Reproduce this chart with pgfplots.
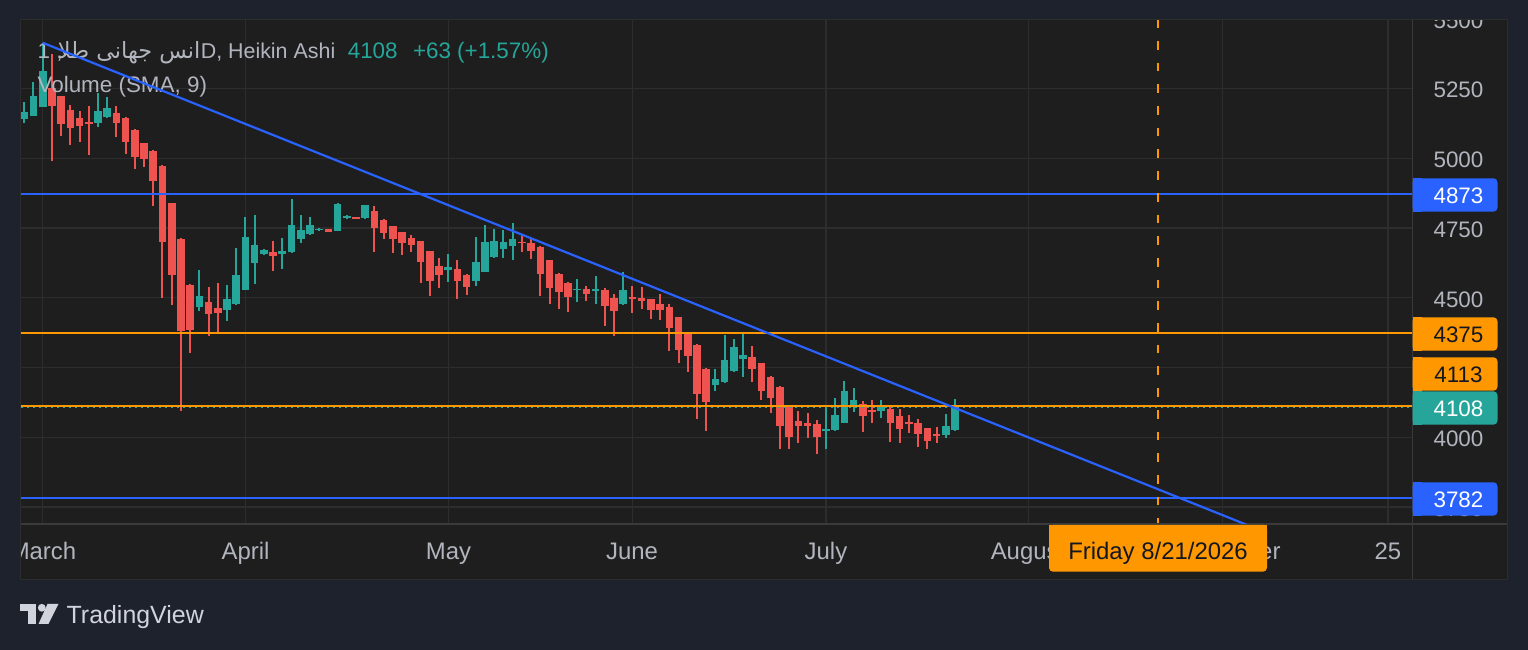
\documentclass[border=0pt]{standalone}
\usepackage{fontspec}
\setmainfont{Liberation Sans}
\newfontfamily\arabicfont[Script=Arabic]{DejaVu Sans}
\TeXXeTstate=1
\usepackage{pgfplots}
\usepackage{pgfplotstable}
\pgfplotsset{compat=1.18}

\definecolor{outer}{HTML}{1E222D}
\definecolor{panel}{HTML}{1E1E1E}
\definecolor{gridc}{HTML}{2D2D2D}
\definecolor{sepc}{HTML}{3A3A3A}
\definecolor{lab}{HTML}{B2B5BE}
\definecolor{bull}{HTML}{26A69A}
\definecolor{bear}{HTML}{EF5350}
\definecolor{tvblue}{HTML}{2962FF}
\definecolor{tvorange}{HTML}{FF9800}
\definecolor{darktext}{HTML}{131722}
\definecolor{logoc}{HTML}{D1D4DC}

\newcommand\tfont{\fontsize{22.5}{27}\selectfont}
\newcommand\sfont{\fontsize{21.5}{26}\selectfont}
\newcommand\mfont{\fontsize{24}{29}\selectfont}
\newcommand\lfont{\fontsize{25}{30}\selectfont}

% Heikin Ashi candles: bar index (0 = March 2), open, high, low, close
\pgfplotstableread{
i O H L C
-2 5140 5201 5128 5166
-1 5152 5273 5152 5223
0 5185 5413 5185 5313
6 5126 5234 5113 5170
7 5148 5220 5146 5180
17 4466 4600 4454 4506
20 4456 4546 4418 4496
21 4476 4679 4475 4582
22 4529 4790 4529 4718
23 4624 4797 4551 4689
24 4656 4675 4652 4671
26 4658 4714 4604 4669
27 4663 4854 4662 4761
28 4712 4797 4697 4743
29 4727 4790 4726 4761
30 4743 4749 4740 4747
32 4741 4840 4740 4836
33 4786 4797 4781 4793
35 4786 4833 4784 4833
44 4598 4657 4558 4609
47 4561 4718 4543 4628
48 4594 4761 4594 4700
49 4647 4747 4644 4704
50 4675 4743 4644 4700
51 4687 4768 4637 4711
58 4528 4567 4486 4533
60 4523 4578 4479 4532
63 4476 4591 4475 4528
73 4186 4245 4167 4209
74 4197 4367 4196 4277
75 4237 4352 4235 4324
76 4280 4377 4217 4295
85 4024 4113 3959 4029
86 4026 4142 4024 4080
87 4053 4202 4052 4166
88 4109 4177 4092 4134
91 4095 4134 4070 4110
98 4009 4084 3999 4041
99 4025 4137 4024 4108
}\bull

\pgfplotstableread{
i O H L C
1 5251 5374 4991 5187
2 5223 5223 5081 5124
3 5173 5190 5049 5110
4 5144 5171 5060 5116
5 5131 5187 5013 5122
8 5164 5186 5076 5128
9 5146 5148 5016 5060
10 5103 5105 4963 5006
11 5055 5055 4970 4999
12 5027 5030 4830 4920
13 4974 4976 4500 4701
14 4838 4840 4474 4583
15 4711 4714 4095 4382
16 4547 4549 4303 4386
18 4486 4539 4364 4443
19 4465 4553 4371 4446
25 4664 4704 4596 4651
31 4745 4747 4736 4737
34 4790 4791 4781 4782
36 4810 4829 4665 4751
37 4780 4782 4712 4733
38 4757 4757 4662 4712
39 4735 4736 4654 4697
40 4716 4725 4665 4690
41 4703 4704 4554 4629
42 4666 4668 4508 4561
43 4614 4643 4536 4582
45 4603 4635 4497 4561
46 4582 4585 4511 4540
52 4699 4725 4665 4695
53 4697 4714 4640 4669
54 4683 4686 4508 4586
55 4634 4635 4479 4536
56 4585 4589 4461 4522
57 4553 4557 4450 4504
59 4531 4542 4490 4515
61 4527 4535 4400 4472
62 4499 4514 4364 4454
64 4502 4542 4447 4497
65 4500 4539 4461 4490
66 4495 4496 4425 4457
67 4476 4514 4422 4456
68 4466 4478 4310 4393
69 4430 4431 4267 4314
70 4372 4374 4235 4292
71 4332 4334 4067 4156
72 4244 4248 4024 4128
77 4288 4327 4199 4246
78 4267 4267 4135 4167
79 4217 4220 4088 4142
80 4180 4184 3959 4042
81 4111 4112 3959 4002
82 4057 4095 3981 4042
83 4050 4087 3999 4041
84 4046 4062 3941 4002
89 4121 4130 4020 4077
90 4099 4134 4052 4092
92 4103 4117 3984 4052
93 4078 4103 3981 4031
94 4055 4080 4016 4049
95 4052 4066 3966 4013
96 4033 4033 3959 3988
97 4011 4038 3981 4006
}\bear

\pgfplotsset{
  tvaxis/.style={
    at={(20bp,126bp)}, anchor=south west, scale only axis,
    width=1392.5bp, height=504.7bp,
    xmin=-2.4634, xmax=148.65, ymin=3689.3, ymax=5498.2,
    axis line style={draw=none}, tick style={draw=none},
    xticklabels={}, yticklabels={},
  },
  wick/.style={only marks, mark=*, mark size=0pt, mark options={draw=none, fill=none}, forget plot,
    error bars/.cd, y dir=plus, y explicit, error mark=none,
    error bar style={line width=2bp, color=#1}},
  body/.style={only marks, mark=*, mark size=0pt, mark options={draw=none, fill=none}, forget plot,
    error bars/.cd, y dir=plus, y explicit, error mark=none,
    error bar style={line width=7.6bp, color=#1}},
}

\newcommand\pbox[4]{%
  \fill[#2, rounded corners=4bp] (1412.5,#1-16.7) rectangle (1497.5,#1+16.7);
  \fill[#2] (1412.5,#1-16.7) rectangle (1422,#1+16.7);
  \node[anchor=center, inner sep=0, text=#3, font=\tfont] at (1458.5,#1+0.3) {#4};
}

\begin{document}
\begin{tikzpicture}
\begin{scope}[x=1bp,y=-1bp,yshift=650bp]
  \fill[outer] (0,0) rectangle (1528,650);
  \fill[panel] (20,19.3) rectangle (1507.5,579.3);
\end{scope}

\begin{axis}[tvaxis,
    xtick={0,22,44,64,85,107,128,146},
    ytick={3750,4000,4250,4500,4750,5000,5250},
    grid=major, major grid style={draw=gridc, line width=1.3bp}]
  % wicks
  \addplot[wick=bull] table[x=i, y=L, y error plus expr=\thisrow{H}-\thisrow{L}] {\bull};
  \addplot[wick=bear] table[x=i, y=L, y error plus expr=\thisrow{H}-\thisrow{L}] {\bear};
  % bodies
  \addplot[body=bull] table[x=i, y=O, y error plus expr=\thisrow{C}-\thisrow{O}] {\bull};
  \addplot[body=bear] table[x=i, y=C, y error plus expr=\thisrow{O}-\thisrow{C}] {\bear};
  % last price line
  \addplot[bull, line width=2bp, dash pattern=on 2bp off 4bp] coordinates {(-3,4108) (150,4108)};
  % horizontal levels
  \addplot[tvblue, line width=2bp] coordinates {(-3,4873) (150,4873)};
  \addplot[tvorange, line width=2bp] coordinates {(-3,4375) (150,4375)};
  \addplot[tvorange, line width=2bp] coordinates {(-3,4113) (150,4113)};
  \addplot[tvblue, line width=2bp] coordinates {(-3,3782) (150,3782)};
  % vertical date marker
  \addplot[tvorange, line width=2bp, dash pattern=on 8.7bp off 13bp] coordinates {(121,5498.2) (121,3689.3)};
\end{axis}

\begin{scope}[x=1bp,y=-1bp,yshift=650bp]
  % separators
  \draw[sepc, line width=1.5bp] (1412.5,19.3) -- (1412.5,579.3);
  \draw[sepc, line width=1.5bp] (20,524) -- (1507.5,524);
  % legend text
  \node[anchor=base west, inner sep=0, text=lab, font=\tfont] at (37.4,58.3) {1 ,};
  \node[anchor=base east, inner sep=0, text=lab, font=\tfont] at (200.6,58.3) {\arabicfont\beginR انس جهانی طلا\endR};
  \node[anchor=base west, inner sep=0, text=lab, font=\sfont] at (200.6,58.3) {D, Heikin Ashi};
  \node[anchor=base west, inner sep=0, text=bull, font=\tfont] at (347.6,58.3) {4108};
  \node[anchor=base west, inner sep=0, text=bull, font=\tfont] at (412.8,58.3) {+63 (+1.57\%)};
  \node[anchor=base west, inner sep=0, text=lab, font=\tfont] at (37.4,92.7) {Volume (SMA, 9)};
  % price scale labels
  \foreach \v/\yy in {5250/90.1, 5000/159.8, 4750/229.6, 4500/299.3, 4000/438.8}
    \node[anchor=center, inner sep=0, text=lab, font=\tfont] at (1458.5,\yy) {\v};
  \begin{scope}
    \clip (1413,19.3) rectangle (1507,60);
    \node[anchor=center, inner sep=0, text=lab, font=\tfont] at (1458.5,20.3) {5500};
  \end{scope}
  \begin{scope}
    \clip (1413,515.7) rectangle (1507,523);
    \node[anchor=center, inner sep=0, text=lab, font=\tfont] at (1458.5,508.6) {3750};
  \end{scope}
  % price boxes
  \pbox{195}{tvblue}{white}{4873}
  \pbox{334}{tvorange}{darktext}{4375}
  \pbox{374}{tvorange}{darktext}{4113}
  \pbox{408}{bull}{white}{4108}
  \pbox{499}{tvblue}{white}{3782}
  % time labels
  \foreach \lab/\xx in {March/43, April/245.5, May/448.5, June/632, July/826, 25/1388}
    \node[anchor=base, inner sep=0, text=lab, font=\mfont] at (\xx,560) {\lab};
  \begin{scope}
    \clip (900,525) rectangle (1049,579);
    \node[anchor=base, inner sep=0, text=lab, font=\mfont] at (1028,560) {August};
  \end{scope}
  \begin{scope}
    \clip (1267,525) rectangle (1400,579);
    \node[anchor=base, inner sep=0, text=lab, font=\mfont] at (1222,560) {September};
  \end{scope}
  % date box
  \fill[tvorange, rounded corners=4bp] (1049,524.8) rectangle (1267,571.7);
  \fill[tvorange] (1049,524.8) rectangle (1267,531);
  \node[anchor=base, inner sep=0, text=darktext, font=\mfont] at (1158,560) {Friday 8/21/2026};
  % cover outside panel
  \fill[outer] (0,0) rectangle (1528,19.3);
  \fill[outer] (0,0) rectangle (20,650);
  \fill[outer] (0,579.3) rectangle (1528,650);
  \fill[outer] (1507.5,0) rectangle (1528,650);
  \draw[gridc, line width=1bp] (20,19.3) rectangle (1507.5,579.3);
  % logo
  \fill[logoc] (20,604) rectangle (36,611.5);
  \fill[logoc] (28,604) rectangle (36,624);
  \fill[logoc] (41.8,607.8) circle[radius=3.9];
  \fill[logoc] (47.5,604) -- (58.5,604) -- (48.5,624) -- (38.5,624) -- cycle;
  \node[anchor=base west, inner sep=0, text=logoc, font=\lfont] at (66.5,624) {TradingView};
\end{scope}

% trend line on top of legend text
\begin{axis}[tvaxis, hide axis]
  \addplot[tvblue, line width=2.2bp] coordinates {(0,5414) (140,3563)};
\end{axis}

\pgfresetboundingbox
\path[use as bounding box] (0,0) rectangle (1528bp,650bp);
\end{tikzpicture}
\end{document}
